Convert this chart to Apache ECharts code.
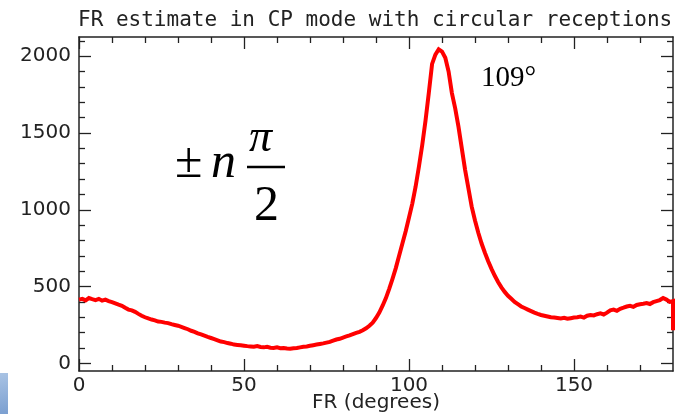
<!DOCTYPE html>
<html>
<head>
<meta charset="utf-8">
<script src="https://cdn.jsdelivr.net/npm/echarts@6/dist/echarts.min.js"></script>
<style>html,body{margin:0;padding:0;background:#fff}#c{width:686px;height:414px}</style>
</head>
<body>
<div id="c"></div>
<script>
// FR angle (degrees), one value per degree, 0..180
const frDeg = [];
for (let d = 0; d <= 180; d++) frDeg.push(d);
const counts = [
  415, 420, 410, 425, 418, 412, 420, 408, 415, 405, 398,
  390, 382, 375, 362, 350, 345, 335, 322, 310, 300,
  292, 285, 280, 272, 270, 265, 262, 255, 250, 245,
  238, 230, 222, 212, 205, 195, 188, 180, 172, 165,
  158, 150, 142, 138, 132, 128, 122, 120, 118, 115,
  112, 110, 108, 112, 106, 104, 108, 102, 100, 104,
  98, 100, 96, 95, 98, 100, 104, 108, 110, 114,
  118, 122, 126, 130, 135, 140, 148, 155, 160, 168,
  175, 182, 190, 198, 205, 215, 228, 245, 265, 295,
  330, 375, 425, 485, 550, 620, 700, 780, 860, 950,
  1040, 1150, 1280, 1420, 1580, 1760, 1950, 2010, 2045, 2030,
  1990, 1900, 1760, 1660, 1540, 1400, 1260, 1140, 1020, 930,
  850, 780, 720, 665, 615, 570, 530, 495, 465, 440,
  420, 400, 385, 370, 360, 350, 340, 330, 322, 315,
  310, 305, 300, 298, 295, 292, 296, 290, 294, 298,
  300, 305, 298, 310, 315, 312, 320, 325, 318, 330,
  345, 350, 342, 355, 362, 370, 375, 368, 380, 385,
  388, 392, 386, 398, 405, 412, 425, 415, 400, 405
];
// final drop at the right edge
const endDeg = [180];
const endCounts = [215];

const xMajor = [0, 50, 100, 150];
const xMinor = [10, 20, 30, 40, 60, 70, 80, 90, 110, 120, 130, 140, 160, 170];
const yMajor = [0, 500, 1000, 1500, 2000];
const yMinor = [100, 200, 300, 400, 600, 700, 800, 900, 1100, 1200, 1300, 1400, 1600, 1700, 1800, 1900, 2100];

const titleText = 'FR estimate in CP mode with circular receptions';
const xName = 'FR (degrees)';
const peakText = '109°';

const data = frDeg.map((d, i) => [d, counts[i]]);
endDeg.forEach((d, i) => data.push([d, endCounts[i]]));

const axisColor = '#222';
const labelFont = {fontFamily: 'DejaVu Sans', fontSize: 20, color: '#222'};
const plainNum = v => String(v);

function xAx(pos, ticks, len, withLabel, withLine) {
  return {
    type: 'value', min: 0, max: 180, position: pos, gridIndex: 0,
    axisLine: {show: withLine, onZero: false, lineStyle: {color: axisColor, width: 1.5}},
    axisTick: {show: true, inside: true, length: len, customValues: ticks, lineStyle: {color: axisColor, width: 1.3}},
    axisLabel: withLabel ? Object.assign({show: true, customValues: ticks, margin: 5, formatter: plainNum}, labelFont) : {show: false},
    splitLine: {show: false},
    name: withLabel ? xName : '',
    nameLocation: 'middle', nameGap: 22, nameMoveOverlap: false,
    nameTextStyle: {fontFamily: 'DejaVu Sans', fontSize: 20, color: '#222'}
  };
}
function yAx(pos, ticks, len, withLabel, withLine) {
  return {
    type: 'value', min: -50, max: 2125, position: pos, gridIndex: 0,
    axisLine: {show: withLine, onZero: false, lineStyle: {color: axisColor, width: 1.5}},
    axisTick: {show: true, inside: true, length: len, customValues: ticks, lineStyle: {color: axisColor, width: 1.3}},
    axisLabel: withLabel ? Object.assign({show: true, customValues: ticks, margin: 8, formatter: plainNum}, labelFont) : {show: false},
    splitLine: {show: false}
  };
}

const chart = echarts.init(document.getElementById('c'), null, {renderer: 'canvas'});
chart.setOption({
  animation: false,
  backgroundColor: '#fff',
  title: {
    text: titleText, left: 73, top: 5,
    textStyle: {fontFamily: 'DejaVu Sans Mono', fontSize: 21, fontWeight: 'normal', color: '#222'}
  },
  grid: {left: 79, right: 13, top: 37, bottom: 43, containLabel: false, outerBoundsMode: 'none'},
  xAxis: [
    xAx('bottom', xMajor, 12, true, true),
    xAx('bottom', xMinor, 6, false, false),
    xAx('top', xMajor, 12, false, true),
    xAx('top', xMinor, 6, false, false)
  ],
  yAxis: [
    yAx('left', yMajor, 12, true, true),
    yAx('left', yMinor, 6, false, false),
    yAx('right', yMajor, 12, false, true),
    yAx('right', yMinor, 6, false, false)
  ],
  series: [{
    type: 'line', xAxisIndex: 0, yAxisIndex: 0,
    data: data, showSymbol: false, symbol: 'none', clip: false,
    lineStyle: {color: '#f00', width: 4, join: 'miter'}
  }],
  graphic: [
    {type: 'rect', shape: {x: 0, y: 373, width: 8, height: 41},
     style: {fill: new echarts.graphic.LinearGradient(0, 0, 1, 1, [{offset: 0, color: '#a9c3e4'}, {offset: 1, color: '#7b9fd0'}])}},
    {type: 'text', x: 481, y: 64, style: {text: peakText, font: '29px "Liberation Serif"', fill: '#000', verticalAlign: 'top'}},
    {type: 'text', x: 175, y: 139, style: {text: '±', font: '50px "Liberation Serif"', fill: '#000', verticalAlign: 'top'}},
    {type: 'text', x: 211, y: 139, style: {text: 'n', font: 'italic 50px "Liberation Serif"', fill: '#000', verticalAlign: 'top'}},
    {type: 'text', x: 249, y: 116, style: {text: 'π', font: 'italic 46px "Liberation Serif"', fill: '#000', verticalAlign: 'top'}},
    {type: 'line', shape: {x1: 247, y1: 167, x2: 285, y2: 167}, style: {stroke: '#000', lineWidth: 2.5}},
    {type: 'text', x: 254, y: 182, style: {text: '2', font: '50px "Liberation Serif"', fill: '#000', verticalAlign: 'top'}}
  ]
});
</script>
</body>
</html>
